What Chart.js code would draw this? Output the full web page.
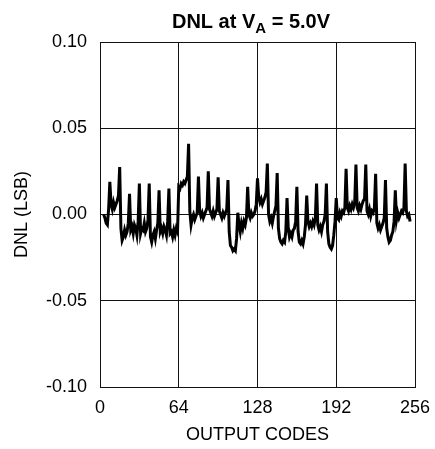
<!DOCTYPE html>
<html lang="en">
<head>
    <meta charset="UTF-8">
    <title>DNL at VA = 5.0V</title>
    <script src="https://cdn.jsdelivr.net/npm/chart.js"></script>
    <style>
        html, body { margin: 0; padding: 0; background: #fff; }
        #wrap { width: 435px; height: 449px; position: relative; }
    </style>
</head>
<body>
    <div id="wrap"><canvas id="dnlChart"></canvas></div>

    <script>
        // DNL readings (LSB) per output code; first code is 3
        const firstCode = 3;
        const dnlCodes3to63 = [
            0.000, -0.002, -0.005, -0.006, 0.003,
            0.019, 0.006, 0.003, 0.007, 0.004, 0.006, 0.008, 0.011,
            0.0275, -0.008, -0.015, -0.013, -0.009, -0.012, -0.010, -0.005,
            0.012, -0.009, -0.007, -0.011, -0.006, -0.008, -0.012, -0.004,
            0.018, -0.011, -0.008, -0.009, -0.005, -0.010, -0.008, -0.003,
            0.018, -0.013, -0.016, -0.012, -0.010, -0.014, -0.009, -0.005,
            0.014, -0.010, -0.008, -0.011, -0.007, -0.009, -0.012, -0.004,
            0.015, -0.011, -0.010, -0.013, -0.009, -0.012, -0.008, -0.010
        ];
        const dnlCodes64to127 = [
            0.016, 0.015, 0.018, 0.017, 0.019, 0.018, 0.020, 0.022,
            0.041, 0.002, -0.006, -0.002, 0.000, -0.003, -0.001, 0.001,
            0.022, 0.002, -0.001, 0.001, -0.002, 0.000, 0.002, 0.004,
            0.025, 0.003, 0.001, -0.001, 0.002, -0.001, 0.001, 0.003,
            0.0215, 0.002, 0.000, -0.002, 0.001, -0.001, 0.001, 0.003,
            0.020, -0.010, -0.018, -0.019, -0.021, -0.020, -0.021, -0.014,
            0.001, -0.006, -0.010, -0.005, -0.008, -0.004, -0.006, -0.002,
            0.016, 0.000, -0.002, 0.001, -0.001, 0.000, 0.002, 0.006
        ];
        const dnlCodes128to191 = [
            0.021, 0.010, 0.007, 0.009, 0.006, 0.008, 0.010, 0.013,
            0.0295, 0.000, -0.004, -0.002, -0.005, -0.001, 0.002, 0.005,
            0.024, -0.008, -0.014, -0.016, -0.017, -0.015, -0.016, -0.010,
            0.0095, -0.008, -0.013, -0.011, -0.013, -0.009, -0.008, -0.004,
            0.016, -0.010, -0.016, -0.017, -0.015, -0.017, -0.013, -0.006,
            0.011, -0.004, -0.007, -0.005, -0.007, -0.004, -0.006, -0.002,
            0.018, -0.006, -0.009, -0.007, -0.010, -0.006, -0.004, 0.000,
            0.018, -0.010, -0.017, -0.019, -0.020, -0.018, -0.012, -0.004
        ];
        const dnlCodes192to252 = [
            0.0095, -0.002, -0.003, 0.001, -0.001, 0.002, 0.001, 0.004,
            0.0265, 0.004, 0.002, 0.005, 0.003, 0.006, 0.004, 0.007,
            0.029, 0.004, 0.002, 0.005, 0.003, 0.006, 0.008, 0.009,
            0.029, 0.002, 0.000, 0.003, -0.001, 0.002, 0.001, 0.004,
            0.0236, -0.005, -0.008, -0.006, -0.009, -0.007, -0.005, -0.002,
            0.020, -0.008, -0.013, -0.016, -0.015, -0.012, -0.010, -0.004,
            0.014, -0.003, 0.001, -0.002, 0.000, 0.002, 0.001, 0.004,
            0.0295, 0.002, -0.001, 0.000, -0.004
        ];

        const xTicks = [0, 64, 128, 192, 256];
        const yTicks = [-0.10, -0.05, 0.00, 0.05, 0.10];

        const dnlValues = dnlCodes3to63.concat(dnlCodes64to127, dnlCodes128to191, dnlCodes192to252);
        const points = dnlValues.map((v, i) => ({ x: firstCode + i, y: v }));

        const FONT = "'Liberation Sans', Arial, Helvetica, sans-serif";

        // title with a subscript, drawn on the canvas above the plot
        const titlePlugin = {
            id: 'subTitle',
            afterDraw(chart) {
                const ctx = chart.ctx;
                const big = 'bold 20px ' + FONT;
                const small = 'bold 15px ' + FONT;
                const parts = [
                    { t: 'DNL at V', f: big, dy: 0 },
                    { t: 'A', f: small, dy: 5 },
                    { t: ' = 5.0V', f: big, dy: 0 }
                ];
                let total = 0;
                parts.forEach(p => { ctx.font = p.f; p.w = ctx.measureText(p.t).width; total += p.w; });
                let x = 251 - total / 2;
                const y = 28;
                ctx.save();
                ctx.fillStyle = '#000';
                ctx.textBaseline = 'alphabetic';
                ctx.textAlign = 'left';
                parts.forEach(p => {
                    ctx.font = p.f;
                    ctx.fillText(p.t, x, y + p.dy);
                    x += p.w;
                });
                ctx.restore();
            }
        };

        new Chart(document.getElementById('dnlChart'), {
            type: 'line',
            data: {
                datasets: [{
                    data: points,
                    borderColor: '#000',
                    borderWidth: 3,
                    pointRadius: 0,
                    tension: 0,
                    fill: false
                }]
            },
            options: {
                responsive: true,
                maintainAspectRatio: false,
                animation: false,
                events: [],
                layout: { padding: { top: 42, right: 20, left: 0, bottom: 0 } },
                plugins: {
                    legend: { display: false },
                    tooltip: { enabled: false }
                },
                scales: {
                    x: {
                        type: 'linear',
                        min: 0,
                        max: 256,
                        afterBuildTicks: s => { s.ticks = xTicks.map(v => ({ value: v })); },
                        afterFit: s => { s.height = 62; s.paddingLeft = 0; s.paddingRight = 0; },
                        grid: { color: '#111', lineWidth: 1, drawTicks: false },
                        border: { color: '#111', width: 1 },
                        ticks: {
                            color: '#000',
                            padding: 10,
                            maxRotation: 0,
                            font: { family: FONT, size: 18 }
                        },
                        title: {
                            display: true,
                            text: 'OUTPUT CODES',
                            color: '#000',
                            font: { family: FONT, size: 18 },
                            padding: { top: 0, bottom: 3 }
                        }
                    },
                    y: {
                        min: -0.10,
                        max: 0.10,
                        afterBuildTicks: s => { s.ticks = yTicks.map(v => ({ value: v })); },
                        afterFit: s => { s.width = 100; s.paddingTop = 0; s.paddingBottom = 0; },
                        grid: { color: '#111', lineWidth: 1, drawTicks: false },
                        border: { color: '#111', width: 1 },
                        ticks: {
                            color: '#000',
                            padding: 13,
                            font: { family: FONT, size: 18 },
                            callback: v => v.toFixed(2)
                        },
                        title: {
                            display: true,
                            text: 'DNL (LSB)',
                            color: '#000',
                            font: { family: FONT, size: 18 },
                            padding: { top: 11, bottom: 0 }
                        }
                    }
                }
            },
            plugins: [titlePlugin]
        });
    </script>
</body>
</html>
